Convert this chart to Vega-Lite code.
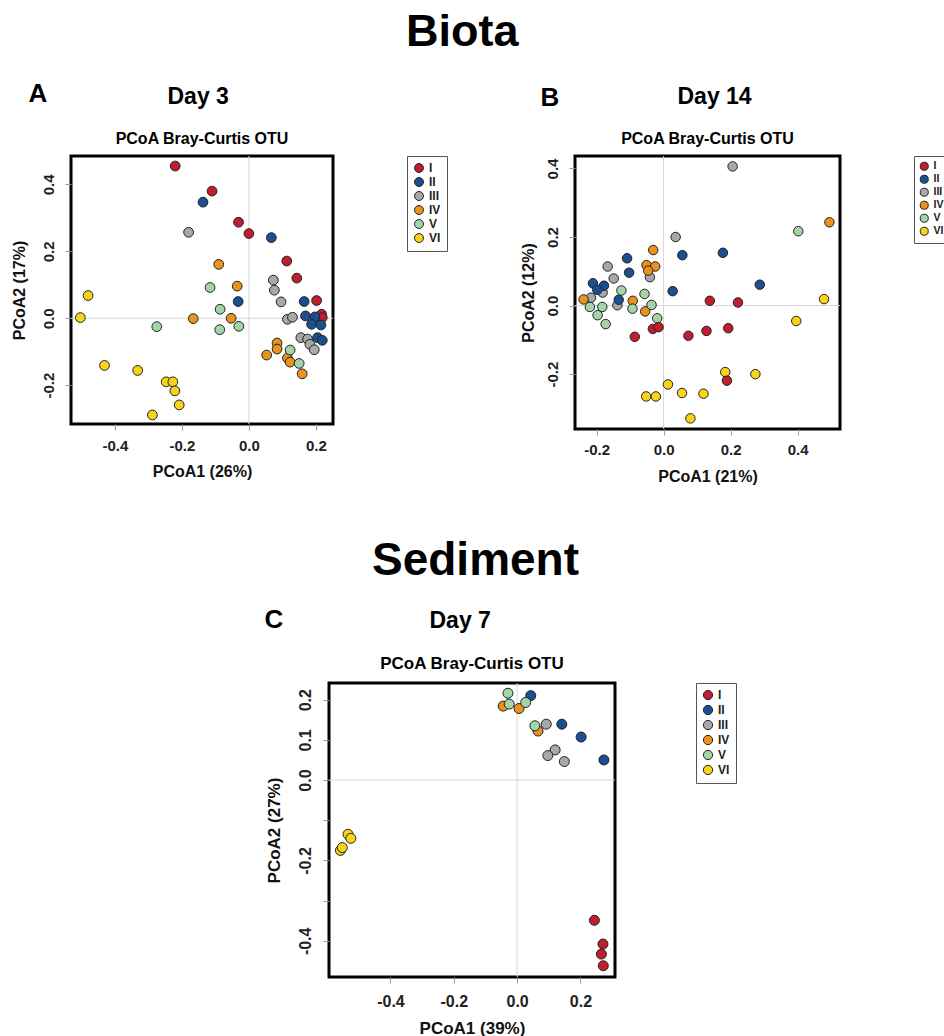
{
  "$schema": "https://vega.github.io/schema/vega-lite/v6.json",
  "background": "white",
  "padding": {"left": 9, "top": 10, "right": 0, "bottom": 0},
  "datasets": {
    "biota_d3": [
      {"g": "I", "x": -0.22, "y": 0.455}, {"g": "I", "x": -0.11, "y": 0.38}, {"g": "I", "x": -0.031, "y": 0.287}, {"g": "I", "x": 0.0, "y": 0.253}, {"g": "I", "x": 0.113, "y": 0.171}, {"g": "I", "x": 0.143, "y": 0.12}, {"g": "I", "x": 0.202, "y": 0.053}, {"g": "I", "x": 0.217, "y": 0.012}, {"g": "I", "x": 0.219, "y": 0.002},
      {"g": "III", "x": -0.18, "y": 0.257}, {"g": "III", "x": 0.073, "y": 0.114}, {"g": "III", "x": 0.076, "y": 0.084}, {"g": "III", "x": 0.096, "y": 0.049}, {"g": "III", "x": 0.115, "y": -0.003}, {"g": "III", "x": 0.13, "y": 0.003}, {"g": "III", "x": 0.155, "y": -0.058}, {"g": "III", "x": 0.175, "y": -0.062}, {"g": "III", "x": 0.182, "y": -0.078}, {"g": "III", "x": 0.195, "y": -0.094},
      {"g": "II", "x": -0.137, "y": 0.347}, {"g": "II", "x": 0.067, "y": 0.241}, {"g": "II", "x": -0.032, "y": 0.05}, {"g": "II", "x": 0.165, "y": 0.05}, {"g": "II", "x": 0.169, "y": 0.007}, {"g": "II", "x": 0.197, "y": 0.004}, {"g": "II", "x": 0.187, "y": -0.018}, {"g": "II", "x": 0.215, "y": -0.02}, {"g": "II", "x": 0.205, "y": -0.058}, {"g": "II", "x": 0.219, "y": -0.066},
      {"g": "IV", "x": -0.09, "y": 0.161}, {"g": "IV", "x": -0.035, "y": 0.096}, {"g": "IV", "x": -0.166, "y": -0.001}, {"g": "IV", "x": -0.053, "y": 0.0}, {"g": "IV", "x": 0.084, "y": -0.074}, {"g": "IV", "x": 0.084, "y": -0.092}, {"g": "IV", "x": 0.053, "y": -0.11}, {"g": "IV", "x": 0.115, "y": -0.119}, {"g": "IV", "x": 0.123, "y": -0.131}, {"g": "IV", "x": 0.159, "y": -0.166},
      {"g": "V", "x": -0.116, "y": 0.092}, {"g": "V", "x": -0.086, "y": 0.027}, {"g": "V", "x": -0.275, "y": -0.025}, {"g": "V", "x": -0.03, "y": -0.024}, {"g": "V", "x": -0.087, "y": -0.034}, {"g": "V", "x": 0.123, "y": -0.095}, {"g": "V", "x": 0.15, "y": -0.135},
      {"g": "VI", "x": -0.48, "y": 0.068}, {"g": "VI", "x": -0.503, "y": 0.002}, {"g": "VI", "x": -0.431, "y": -0.141}, {"g": "VI", "x": -0.332, "y": -0.156}, {"g": "VI", "x": -0.247, "y": -0.19}, {"g": "VI", "x": -0.227, "y": -0.19}, {"g": "VI", "x": -0.221, "y": -0.217}, {"g": "VI", "x": -0.208, "y": -0.259}, {"g": "VI", "x": -0.288, "y": -0.289}
    ],
    "biota_d14": [
      {"g": "III", "x": 0.206, "y": 0.406}, {"g": "III", "x": 0.036, "y": 0.2}, {"g": "III", "x": -0.167, "y": 0.114}, {"g": "III", "x": -0.149, "y": 0.079}, {"g": "III", "x": -0.041, "y": 0.083}, {"g": "III", "x": -0.182, "y": 0.038}, {"g": "III", "x": -0.217, "y": 0.023}, {"g": "III", "x": -0.138, "y": 0.001},
      {"g": "II", "x": 0.056, "y": 0.147}, {"g": "II", "x": 0.177, "y": 0.154}, {"g": "II", "x": -0.109, "y": 0.138}, {"g": "II", "x": -0.103, "y": 0.096}, {"g": "II", "x": -0.211, "y": 0.065}, {"g": "II", "x": -0.178, "y": 0.058}, {"g": "II", "x": -0.198, "y": 0.046}, {"g": "II", "x": 0.027, "y": 0.042}, {"g": "II", "x": 0.287, "y": 0.061}, {"g": "II", "x": -0.134, "y": 0.017},
      {"g": "IV", "x": 0.495, "y": 0.243}, {"g": "IV", "x": -0.031, "y": 0.162}, {"g": "IV", "x": -0.051, "y": 0.118}, {"g": "IV", "x": -0.025, "y": 0.114}, {"g": "IV", "x": -0.046, "y": 0.102}, {"g": "IV", "x": -0.239, "y": 0.018}, {"g": "IV", "x": -0.092, "y": 0.014}, {"g": "IV", "x": -0.055, "y": -0.017},
      {"g": "V", "x": 0.402, "y": 0.217}, {"g": "V", "x": -0.126, "y": 0.044}, {"g": "V", "x": -0.057, "y": 0.034}, {"g": "V", "x": -0.036, "y": 0.002}, {"g": "V", "x": -0.22, "y": -0.004}, {"g": "V", "x": -0.183, "y": -0.004}, {"g": "V", "x": -0.093, "y": -0.009}, {"g": "V", "x": -0.197, "y": -0.028}, {"g": "V", "x": -0.173, "y": -0.054}, {"g": "V", "x": -0.019, "y": -0.037},
      {"g": "VI", "x": 0.479, "y": 0.019}, {"g": "VI", "x": 0.396, "y": -0.045}, {"g": "VI", "x": 0.184, "y": -0.194}, {"g": "VI", "x": 0.274, "y": -0.2}, {"g": "VI", "x": 0.013, "y": -0.23}, {"g": "VI", "x": -0.052, "y": -0.265}, {"g": "VI", "x": -0.023, "y": -0.265}, {"g": "VI", "x": 0.055, "y": -0.255}, {"g": "VI", "x": 0.119, "y": -0.257}, {"g": "VI", "x": 0.08, "y": -0.329},
      {"g": "I", "x": 0.138, "y": 0.014}, {"g": "I", "x": 0.222, "y": 0.009}, {"g": "I", "x": -0.032, "y": -0.068}, {"g": "I", "x": -0.015, "y": -0.063}, {"g": "I", "x": -0.086, "y": -0.091}, {"g": "I", "x": 0.074, "y": -0.088}, {"g": "I", "x": 0.128, "y": -0.074}, {"g": "I", "x": 0.193, "y": -0.066}, {"g": "I", "x": 0.189, "y": -0.219}
    ],
    "sediment_d7": [
      {"g": "I", "x": 0.244, "y": -0.349}, {"g": "I", "x": 0.271, "y": -0.408}, {"g": "I", "x": 0.266, "y": -0.433}, {"g": "I", "x": 0.272, "y": -0.462},
      {"g": "II", "x": 0.043, "y": 0.21}, {"g": "II", "x": 0.141, "y": 0.139}, {"g": "II", "x": 0.202, "y": 0.107}, {"g": "II", "x": 0.274, "y": 0.05},
      {"g": "III", "x": 0.092, "y": 0.139}, {"g": "III", "x": 0.12, "y": 0.075}, {"g": "III", "x": 0.097, "y": 0.061}, {"g": "III", "x": 0.149, "y": 0.046},
      {"g": "IV", "x": -0.044, "y": 0.184}, {"g": "IV", "x": 0.006, "y": 0.178}, {"g": "IV", "x": 0.066, "y": 0.122},
      {"g": "V", "x": -0.029, "y": 0.216}, {"g": "V", "x": -0.025, "y": 0.189}, {"g": "V", "x": 0.027, "y": 0.193}, {"g": "V", "x": 0.056, "y": 0.135},
      {"g": "VI", "x": -0.534, "y": -0.135}, {"g": "VI", "x": -0.525, "y": -0.145}, {"g": "VI", "x": -0.558, "y": -0.175}, {"g": "VI", "x": -0.552, "y": -0.168}
    ],
    "zero": [{"v": 0}]
  },
  "vconcat": [
    {
      "title": {"text": "Biota", "fontSize": 45, "anchor": "middle", "frame": "bounds", "offset": 26, "dx": -18},
      "bounds": "flush",
      "spacing": 504,
      "resolve": {"scale": {"color": "independent"}, "legend": {"color": "independent"}},
      "hconcat": [
        {
          "title": {"text": "A", "fontSize": 26, "anchor": "start", "frame": "bounds", "offset": -21, "dx": 19},
          "bounds": "flush",
          "resolve": {"scale": {"color": "independent"}, "legend": {"color": "independent"}},
          "vconcat": [
            {
              "title": {"text": "Day 3", "fontSize": 23, "anchor": "start", "frame": "bounds", "offset": 20, "dx": 158},
              "bounds": "flush",
              "resolve": {"scale": {"color": "independent"}, "legend": {"color": "independent"}},
              "vconcat": [
                {
                  "width": 262,
                  "height": 268,
                  "title": {"text": "PCoA Bray-Curtis OTU", "fontSize": 16, "anchor": "middle", "frame": "group", "offset": 9},
                  "layer": [
                    {
                      "data": {"name": "zero"},
                      "mark": {"type": "rule", "color": "#d6d6d6", "strokeWidth": 1},
                      "encoding": {"x": {"datum": 0, "type": "quantitative"}}
                    },
                    {
                      "data": {"name": "zero"},
                      "mark": {"type": "rule", "color": "#d6d6d6", "strokeWidth": 1},
                      "encoding": {"y": {"datum": 0, "type": "quantitative"}}
                    },
                    {
                      "data": {"name": "biota_d3"},
                      "mark": {"type": "circle", "size": 95, "opacity": 1, "stroke": "#222222", "strokeWidth": 1},
                      "encoding": {
                        "x": {"field": "x", "type": "quantitative", "scale": {"domain": [-0.531, 0.251], "nice": false, "zero": false},
                          "axis": {"title": "PCoA1 (26%)", "values": [-0.4, -0.2, 0, 0.2], "labelExpr": "replace(format(datum.value, '.1f'), '\u2212', '-')", "labelPadding": 8, "titleX": 131, "titleY": 52, "titleAlign": "center", "titleBaseline": "alphabetic"}},
                        "y": {"field": "y", "type": "quantitative", "scale": {"domain": [-0.316, 0.485], "nice": false, "zero": false},
                          "axis": {"title": "PCoA2 (17%)", "values": [-0.2, 0, 0.2, 0.4], "labelExpr": "replace(format(datum.value, '.1f'), '\u2212', '-')", "labelAngle": 270, "labelAlign": "center", "labelBaseline": "alphabetic", "labelPadding": 12, "titleX": -47, "titleY": 134, "titleAngle": 270, "titleAlign": "center", "titleBaseline": "alphabetic"}},
                        "color": {"field": "g", "type": "nominal",
                          "scale": {"domain": ["I", "II", "III", "IV", "V", "VI"], "range": ["#BE1E2D", "#1B4F91", "#A8A8A8", "#E8931B", "#A3D5A9", "#F7D31A"]},
                          "legend": {"title": null, "orient": "right", "offset": 74, "padding": 6, "strokeColor": "#555555", "symbolType": "circle", "symbolSize": 80, "symbolStrokeColor": "#222222", "symbolStrokeWidth": 1, "symbolOpacity": 1, "labelFontSize": 12, "labelFontWeight": "bold", "labelOffset": 4, "rowPadding": 0}}
                      }
                    }
                  ]
                }
              ]
            }
          ]
        },
        {
          "title": {"text": "B", "fontSize": 26, "anchor": "start", "frame": "bounds", "offset": -25, "dx": 22},
          "bounds": "flush",
          "resolve": {"scale": {"color": "independent"}, "legend": {"color": "independent"}},
          "vconcat": [
            {
              "title": {"text": "Day 14", "fontSize": 23, "anchor": "start", "frame": "bounds", "offset": 20, "dx": 159},
              "bounds": "flush",
              "resolve": {"scale": {"color": "independent"}, "legend": {"color": "independent"}},
              "vconcat": [
                {
                  "width": 265,
                  "height": 273,
                  "title": {"text": "PCoA Bray-Curtis OTU", "fontSize": 16, "anchor": "middle", "frame": "group", "offset": 9},
                  "layer": [
                    {
                      "data": {"name": "zero"},
                      "mark": {"type": "rule", "color": "#d6d6d6", "strokeWidth": 1},
                      "encoding": {"x": {"datum": 0, "type": "quantitative"}}
                    },
                    {
                      "data": {"name": "zero"},
                      "mark": {"type": "rule", "color": "#d6d6d6", "strokeWidth": 1},
                      "encoding": {"y": {"datum": 0, "type": "quantitative"}}
                    },
                    {
                      "data": {"name": "biota_d14"},
                      "mark": {"type": "circle", "size": 90, "opacity": 1, "stroke": "#222222", "strokeWidth": 1},
                      "encoding": {
                        "x": {"field": "x", "type": "quantitative", "scale": {"domain": [-0.2645, 0.5266], "nice": false, "zero": false},
                          "axis": {"title": "PCoA1 (21%)", "values": [-0.2, 0, 0.2, 0.4], "labelExpr": "replace(format(datum.value, '.1f'), '\u2212', '-')", "labelPadding": 7, "titleX": 132.5, "titleY": 52, "titleAlign": "center", "titleBaseline": "alphabetic"}},
                        "y": {"field": "y", "type": "quantitative", "scale": {"domain": [-0.36, 0.4364], "nice": false, "zero": false},
                          "axis": {"title": "PCoA2 (12%)", "values": [-0.2, 0, 0.2, 0.4], "labelExpr": "replace(format(datum.value, '.1f'), '\u2212', '-')", "labelAngle": 270, "labelAlign": "center", "labelBaseline": "alphabetic", "labelPadding": 12, "titleX": -42, "titleY": 136.5, "titleAngle": 270, "titleAlign": "center", "titleBaseline": "alphabetic"}},
                        "color": {"field": "g", "type": "nominal",
                          "scale": {"domain": ["I", "II", "III", "IV", "V", "VI"], "range": ["#BE1E2D", "#1B4F91", "#A8A8A8", "#E8931B", "#A3D5A9", "#F7D31A"]},
                          "legend": {"title": null, "orient": "right", "offset": 74, "padding": 5, "strokeColor": "#555555", "symbolType": "circle", "symbolSize": 65, "symbolStrokeColor": "#222222", "symbolStrokeWidth": 1, "symbolOpacity": 1, "labelFontSize": 10.5, "labelFontWeight": "bold", "labelOffset": 4, "rowPadding": 0}}
                      }
                    }
                  ]
                }
              ]
            }
          ]
        }
      ]
    },
    {
      "title": {"text": "Sediment", "fontSize": 46, "anchor": "middle", "frame": "bounds", "offset": 22, "dx": 71},
      "bounds": "flush",
      "spacing": 100,
      "resolve": {"scale": {"color": "independent"}, "legend": {"color": "independent"}},
      "hconcat": [
        {
          "width": 158,
          "height": 20,
          "view": {"stroke": null},
          "data": {"name": "zero"},
          "mark": {"type": "point", "opacity": 0},
          "encoding": {
            "x": {"field": "v", "type": "quantitative", "axis": null},
            "y": {"field": "v", "type": "quantitative", "axis": null}
          }
        },
        {
          "title": {"text": "C", "fontSize": 26, "anchor": "start", "frame": "bounds", "offset": -23, "dx": 1},
          "bounds": "flush",
          "resolve": {"scale": {"color": "independent"}, "legend": {"color": "independent"}},
          "vconcat": [
            {
              "title": {"text": "Day 7", "fontSize": 23, "anchor": "start", "frame": "bounds", "offset": 20, "dx": 166},
              "bounds": "flush",
              "resolve": {"scale": {"color": "independent"}, "legend": {"color": "independent"}},
              "vconcat": [
                {
                  "width": 286,
                  "height": 294,
                  "title": {"text": "PCoA Bray-Curtis OTU", "fontSize": 17, "anchor": "middle", "frame": "group", "offset": 10},
                  "layer": [
                    {
                      "data": {"name": "zero"},
                      "mark": {"type": "rule", "color": "#d6d6d6", "strokeWidth": 1},
                      "encoding": {"x": {"datum": 0, "type": "quantitative"}}
                    },
                    {
                      "data": {"name": "zero"},
                      "mark": {"type": "rule", "color": "#d6d6d6", "strokeWidth": 1},
                      "encoding": {"y": {"datum": 0, "type": "quantitative"}}
                    },
                    {
                      "data": {"name": "sediment_d7"},
                      "mark": {"type": "circle", "size": 100, "opacity": 1, "stroke": "#222222", "strokeWidth": 1},
                      "encoding": {
                        "x": {"field": "x", "type": "quantitative", "scale": {"domain": [-0.594, 0.309], "nice": false, "zero": false},
                          "axis": {"title": "PCoA1 (39%)", "values": [-0.4, -0.2, 0, 0.2], "labelExpr": "replace(format(datum.value, '.1f'), '\u2212', '-')", "labelPadding": 10, "labelFontSize": 16, "titleFontSize": 17, "titleX": 143, "titleY": 56, "titleAlign": "center", "titleBaseline": "alphabetic"}},
                        "y": {"field": "y", "type": "quantitative", "scale": {"domain": [-0.49, 0.2415], "nice": false, "zero": false},
                          "axis": {"title": "PCoA2 (27%)", "values": [-0.4, -0.3, -0.2, -0.1, 0, 0.1, 0.2], "labelExpr": "abs(datum.value + 0.1) < 0.01 || abs(datum.value + 0.3) < 0.01 ? '' : replace(format(datum.value, '.1f'), '\u2212', '-')", "labelAngle": 270, "labelAlign": "center", "labelBaseline": "alphabetic", "labelPadding": 13, "labelFontSize": 16, "titleFontSize": 17, "titleX": -50, "titleY": 147, "titleAngle": 270, "titleAlign": "center", "titleBaseline": "alphabetic"}},
                        "color": {"field": "g", "type": "nominal",
                          "scale": {"domain": ["I", "II", "III", "IV", "V", "VI"], "range": ["#BE1E2D", "#1B4F91", "#A8A8A8", "#E8931B", "#A3D5A9", "#F7D31A"]},
                          "legend": {"title": null, "orient": "right", "offset": 81, "padding": 6, "strokeColor": "#555555", "symbolType": "circle", "symbolSize": 85, "symbolStrokeColor": "#222222", "symbolStrokeWidth": 1, "symbolOpacity": 1, "labelFontSize": 12, "labelFontWeight": "bold", "labelOffset": 4, "rowPadding": 1}}
                      }
                    }
                  ]
                }
              ]
            }
          ]
        }
      ]
    }
  ],
  "spacing": 52,
  "resolve": {"scale": {"color": "independent"}, "legend": {"color": "independent"}},
  "config": {
    "font": "Liberation Sans",
    "view": {"stroke": "black", "strokeWidth": 3},
    "title": {"font": "Liberation Sans", "fontWeight": "bold", "color": "#000000"},
    "axis": {"grid": false, "domain": false, "tickColor": "#9a9a9a", "tickSize": 6, "tickWidth": 1, "labelFont": "Liberation Sans", "labelFontSize": 15, "labelFontWeight": "bold", "labelColor": "#222222", "titleFont": "Liberation Sans", "titleFontSize": 16, "titleFontWeight": "bold", "titleColor": "#111111"},
    "legend": {"labelFont": "Liberation Sans", "labelColor": "#222222"}
  }
}
